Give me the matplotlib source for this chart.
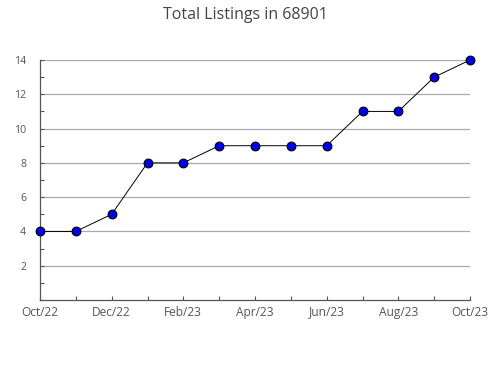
import matplotlib
matplotlib.use("Agg")
import matplotlib.pyplot as plt
from matplotlib.ticker import MultipleLocator

months = ["Oct/22", "Nov/22", "Dec/22", "Jan/23", "Feb/23", "Mar/23", "Apr/23",
          "May/23", "Jun/23", "Jul/23", "Aug/23", "Sep/23", "Oct/23"]
listings = [4, 4, 5, 8, 8, 9, 9, 9, 9, 11, 11, 13, 14]
yticks = [2, 4, 6, 8, 10, 12, 14]

plt.rcParams['font.family'] = ['Open Sans', 'DejaVu Sans']

fig = plt.figure(figsize=(4.9, 3.8), dpi=100)
ax = fig.add_axes([40/490, 80/380, 430/490, 240/380])

x = list(range(len(months)))
ax.plot(x, listings, color="black", linewidth=0.7, marker="o", markersize=6.3,
        markerfacecolor="#0000ee", markeredgecolor="black", markeredgewidth=0.8,
        zorder=3, clip_on=False)

ax.set_xlim(0, len(months) - 1)
ax.set_ylim(0, 14)
ax.set_yticks(yticks)
ax.yaxis.set_minor_locator(MultipleLocator(1))
ax.set_xticks(x)
ax.set_xticklabels([m if i % 2 == 0 else "" for i, m in enumerate(months)])

ax.grid(axis="y", color="#aaaaaa", linewidth=0.9)
ax.set_axisbelow(True)
for s in ["top", "right"]:
    ax.spines[s].set_visible(False)
for s in ["left", "bottom"]:
    ax.spines[s].set_color("#555555")
    ax.spines[s].set_linewidth(0.9)

ax.tick_params(axis="both", which="both", colors="#555555", direction="in",
               length=3.2, width=0.8, labelcolor="#555555")
ax.tick_params(axis="y", which="major", labelsize=7.6, pad=10)
ax.tick_params(axis="x", labelsize=8.6, pad=4)

fig.suptitle("Total Listings in 68901", x=245/490, y=1 - 7/380, va="top",
             fontsize=11.5, color="#444444")

fig.savefig("out.png", dpi=100)
